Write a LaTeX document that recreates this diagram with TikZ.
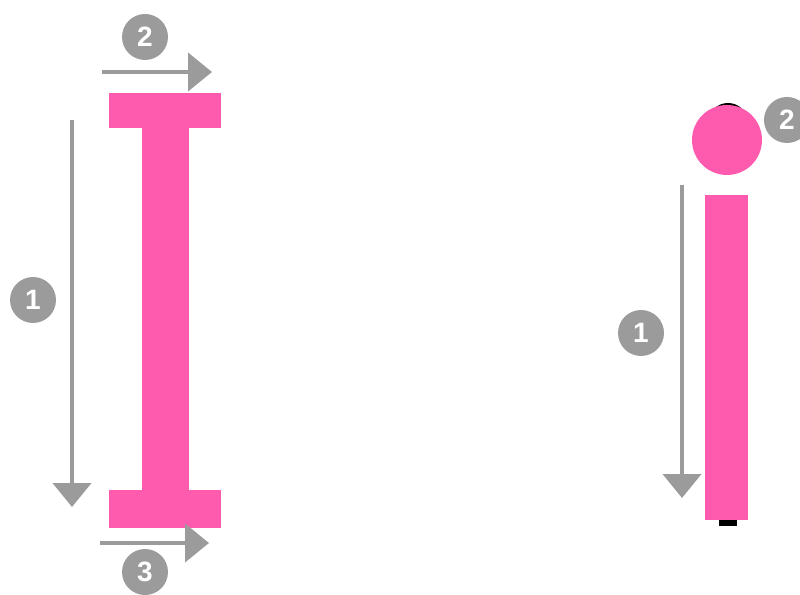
\documentclass[tikz,border=0pt]{standalone}
\usepackage{fontspec}
\newfontfamily\numfont{Liberation Sans}
\usetikzlibrary{arrows.meta}
\definecolor{strokepink}{HTML}{FF5BAE}
\definecolor{guidegray}{HTML}{9B9B9B}

\begin{document}
\begin{tikzpicture}[x=.75pt,y=-.75pt,
  guide/.style={draw=guidegray,line width=3.2pt,-{Triangle[length=18pt,width=28.5pt]}},
  num/.style={circle,fill=guidegray,minimum size=34.5pt,inner sep=0pt,text=white,
    font=\numfont\bfseries\fontsize{21}{21}\selectfont}]
\useasboundingbox (0,0) rectangle (800,595);
%
% capital I
\fill[strokepink] (109,93) rectangle (221,128);
\fill[strokepink] (142,127) rectangle (189,491);
\fill[strokepink] (109,490) rectangle (221,528);
%
\coordinate (Ione) at (72,120);   \coordinate (Ioneend) at (72,507);
\coordinate (Itwo) at (102,72);   \coordinate (Itwoend) at (212,72);
\coordinate (Ithree) at (100,543); \coordinate (Ithreeend) at (209,543);
\draw[guide] (Ione) -- (Ioneend);
\draw[guide] (Itwo) -- (Itwoend);
\draw[guide] (Ithree) -- (Ithreeend);
\node[num] (Inum1) at (33,300) {1};
\node[num] (Inum2) at (145,37) {2};
\node[num] (Inum3) at (145,572) {3};
%
% small i
\fill[black] (728,123) circle (20);
\fill[strokepink] (727,140) circle (35);
\fill[black] (719,518) rectangle (737,526);
\fill[strokepink] (705,195) rectangle (748,520);
%
\coordinate (ione) at (682,185); \coordinate (ioneend) at (682,498);
\draw[guide] (ione) -- (ioneend);
\node[num] (inum1) at (641,333) {1};
\node[num] (inum2) at (787,120) {2};
\end{tikzpicture}
\end{document}
